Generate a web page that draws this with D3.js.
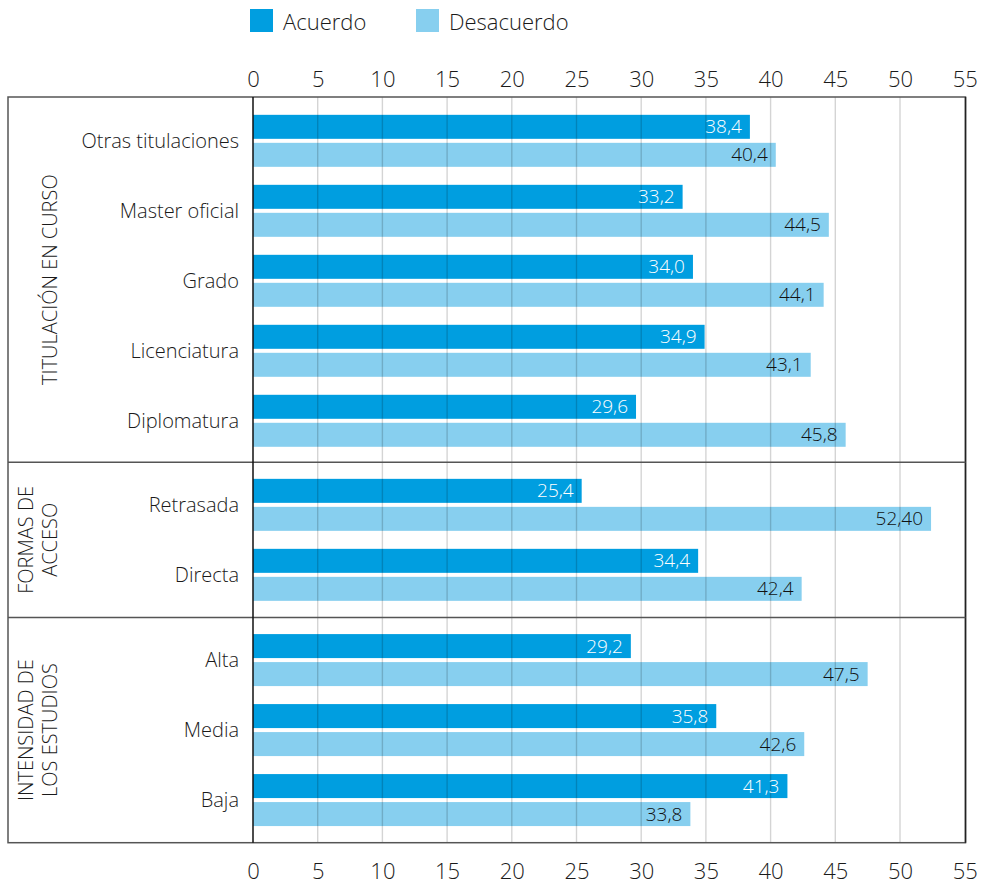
<!DOCTYPE html>
<html>
<head>
<meta charset="utf-8">
<script src="https://cdn.jsdelivr.net/npm/d3@7"></script>
<style>
  html, body { margin: 0; padding: 0; background: #fff; }
  svg { display: block; font-family: "Open Sans", sans-serif; font-weight: 300; }
</style>
</head>
<body>
<svg id="chart" width="990" height="886"></svg>
<script>
// ---------- DATA ----------
const groups = ["TITULACIÓN EN CURSO", "FORMAS DE ACCESO", "INTENSIDAD DE LOS ESTUDIOS"];
const groupLabelLines = [["TITULACIÓN EN CURSO"], ["FORMAS DE", "ACCESO"], ["INTENSIDAD DE", "LOS ESTUDIOS"]];
const categories = [
  ["Otras titulaciones", "Master oficial", "Grado", "Licenciatura", "Diplomatura"],
  ["Retrasada", "Directa"],
  ["Alta", "Media", "Baja"]
];
const acuerdo = [
  ["38,4", "33,2", "34,0", "34,9", "29,6"],
  ["25,4", "34,4"],
  ["29,2", "35,8", "41,3"]
];
const desacuerdo = [
  ["40,4", "44,5", "44,1", "43,1", "45,8"],
  ["52,40", "42,4"],
  ["47,5", "42,6", "33,8"]
];
const seriesNames = ["Acuerdo", "Desacuerdo"];
const seriesColors = ["#009ee0", "#87cfef"];
const tickValues = [0, 5, 10, 15, 20, 25, 30, 35, 40, 45, 50, 55];

// ---------- LAYOUT ----------
const svg = d3.select("#chart");
const frameL = 8, frameR = 965.5, frameT = 97, frameB = 842.7;
const x = d3.scaleLinear().domain([0, 55]).range([253, 964.7]);
const num = s => +s.replace(",", ".");

const pad = 0.109;
const groupUnits = categories.map(c => c.length + 2 * pad);
const totalUnits = d3.sum(groupUnits);
const yU = d3.scaleLinear().domain([0, totalUnits]).range([frameT, frameB]);
let acc = 0;
const groupBounds = groupUnits.map(u => { const b = [yU(acc), yU(acc + u)]; acc += u; return b; });
const bands = categories.map((cats, i) =>
  d3.scaleBand().domain(cats).range(groupBounds[i]).paddingOuter(pad).paddingInner(0));

// ---------- LEGEND ----------
const legendX = [250, 416];
seriesNames.forEach((n, i) => {
  svg.append("rect").attr("x", legendX[i]).attr("y", 9).attr("width", 23).attr("height", 23)
    .attr("fill", seriesColors[i]);
  svg.append("text").attr("x", legendX[i] + 33).attr("y", 30)
    .attr("font-size", 22).attr("fill", "#1a1a1a").text(n);
});

// ---------- AXES ----------
const axisTop = d3.axisTop(x).tickValues(tickValues).tickSize(0).tickPadding(0).tickFormat(d3.format("d"));
const gTop = svg.append("g").attr("transform", `translate(0,${86.7})`).call(axisTop);
const axisBottom = d3.axisBottom(x).tickValues(tickValues).tickSize(0).tickPadding(0).tickFormat(d3.format("d"));
const gBot = svg.append("g").attr("transform", `translate(0,${879})`).call(axisBottom);
[gTop, gBot].forEach(g => {
  g.select(".domain").remove();
  g.selectAll("text").attr("font-size", 22).attr("fill", "#1a1a1a")
    .attr("font-family", "'Open Sans', sans-serif").attr("font-weight", 300).attr("dy", 0);
});

// ---------- BARS ----------
const barsG = svg.append("g");
const labelsG = svg.append("g");
categories.forEach((cats, gi) => {
  const band = bands[gi];
  const step = band.step();
  const shift = gi === 0 ? 1.2 : 0;
  const rows = cats.map((c, ci) => ({ c, a: acuerdo[gi][ci], d: desacuerdo[gi][ci] }));
  [["a", 9], ["d", 37]].forEach(([k, off], si) => {
    barsG.selectAll(null).data(rows).enter().append("rect")
      .attr("x", x(0))
      .attr("y", r => band(r.c) + shift + step * off / 70)
      .attr("width", r => x(num(r[k])) - x(0))
      .attr("height", step * 24 / 70)
      .attr("fill", seriesColors[si]);
    labelsG.selectAll(null).data(rows).enter().append("text")
      .attr("x", r => x(num(r[k])) - 8)
      .attr("y", r => band(r.c) + shift + step * (off + 12) / 70)
      .attr("dy", "0.35em")
      .attr("text-anchor", "end")
      .attr("font-size", 19)
      .attr("fill", si === 0 ? "#fff" : "#111")
      .text(r => r[k]);
  });
  // category labels
  svg.selectAll(null).data(cats).enter().append("text")
    .attr("x", 239)
    .attr("y", c => band(c) + shift + step * 35 / 70)
    .attr("dy", "0.35em")
    .attr("text-anchor", "end")
    .attr("font-size", 20)
    .attr("fill", "#1a1a1a")
    .text(c => c);
  // group label
  const cy = (groupBounds[gi][0] + groupBounds[gi][1]) / 2;
  const lines = groupLabelLines[gi];
  const lh = 23.5;
  const lastBase = 56.5;
  const t = svg.append("text")
    .attr("transform", `translate(0,${cy}) rotate(-90)`)
    .attr("text-anchor", "middle").attr("font-size", 20).attr("fill", "#1a1a1a");
  lines.forEach((ln, li) => {
    t.append("tspan").attr("x", 0).attr("y", lastBase - (lines.length - 1 - li) * lh).text(ln);
  });
});

// ---------- GRID (over bars) ----------
svg.append("g").selectAll("line").data(tickValues.filter(v => v > 0 && v < 55)).enter().append("line")
  .attr("x1", d => x(d)).attr("x2", d => x(d))
  .attr("y1", frameT).attr("y2", frameB)
  .attr("stroke", "#000").attr("stroke-opacity", 0.17).attr("stroke-width", 1.4);
labelsG.raise();

// ---------- FRAME ----------
svg.append("rect").attr("x", frameL).attr("y", frameT)
  .attr("width", frameR - frameL).attr("height", frameB - frameT)
  .attr("fill", "none").attr("stroke", "#555").attr("stroke-width", 1.5);
svg.append("line").attr("x1", frameR).attr("x2", frameR).attr("y1", frameT).attr("y2", frameB)
  .attr("stroke", "#222").attr("stroke-width", 1.5);
groupBounds.slice(0, -1).forEach(b => {
  svg.append("line").attr("x1", frameL).attr("x2", frameR).attr("y1", b[1]).attr("y2", b[1])
    .attr("stroke", "#555").attr("stroke-width", 1.5);
});
svg.append("line").attr("x1", x(0)).attr("x2", x(0)).attr("y1", frameT).attr("y2", frameB)
  .attr("stroke", "#111").attr("stroke-width", 1.5);
</script>
</body>
</html>
